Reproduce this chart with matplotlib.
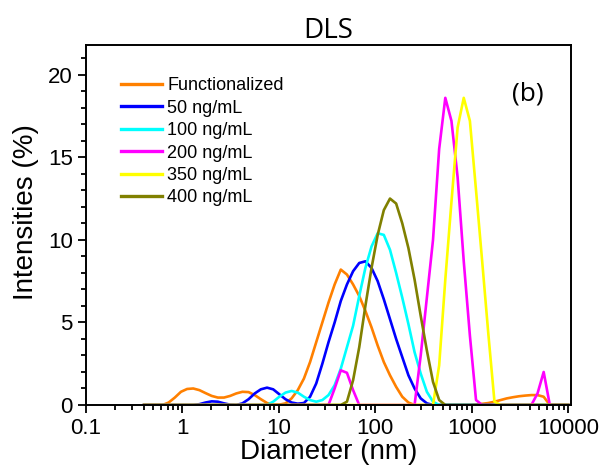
import matplotlib
matplotlib.use("Agg")
import matplotlib.pyplot as plt
from matplotlib.ticker import MultipleLocator, LogLocator, NullFormatter, FixedLocator

# Size bins (nm)
diameter = [0.4, 0.4632, 0.5365, 0.6213, 0.7195, 0.8332, 0.9649, 1.117, 1.294, 1.499,
            1.736, 2.01, 2.328, 2.696, 3.122, 3.615, 4.187, 4.849, 5.615, 6.503,
            7.531, 8.721, 10.1, 11.7, 13.54, 15.69, 18.17, 21.04, 24.36, 28.21,
            32.67, 37.84, 43.82, 50.75, 58.77, 68.06, 78.82, 91.28, 105.7, 122.4,
            141.8, 164.2, 190.1, 220.2, 255.0, 295.3, 342.0, 396.1, 458.7, 531.2,
            615.1, 712.4, 825.0, 955.4, 1106, 1281, 1484, 1718, 1990, 2305,
            2669, 3091, 3580, 4145, 4801, 5560, 6439, 7456, 8635, 10000]

functionalized = [0, 0, 0, 0, 0.15, 0.45, 0.8, 0.97, 1.0, 0.9,
                  0.72, 0.55, 0.45, 0.45, 0.55, 0.7, 0.8, 0.78, 0.6, 0.35,
                  0.12, 0.02, 0.02, 0.1, 0.4, 0.9, 1.6, 2.6, 3.8, 5.0,
                  6.2, 7.3, 8.2, 7.9, 7.3, 6.6, 5.7, 4.7, 3.6, 2.6,
                  1.8, 1.1, 0.5, 0.15, 0, 0, 0, 0, 0, 0,
                  0, 0, 0, 0, 0.03, 0.07, 0.12, 0.2, 0.3, 0.4,
                  0.47, 0.53, 0.57, 0.6, 0.6, 0.5, 0, 0, 0, 0]

ng50 = [0, 0, 0, 0, 0, 0, 0, 0, 0, 0.05,
        0.15, 0.22, 0.2, 0.1, 0.02, 0, 0.1, 0.35, 0.7, 0.95,
        1.05, 0.95, 0.65, 0.35, 0.15, 0.08, 0.12, 0.5, 1.3, 2.5,
        3.8, 5.0, 6.3, 7.3, 8.1, 8.6, 8.7, 8.3, 7.5, 6.4,
        5.2, 4.0, 2.9, 1.8, 1.0, 0.4, 0.1, 0, 0, 0,
        0, 0, 0, 0, 0, 0, 0, 0, 0, 0,
        0, 0, 0, 0, 0, 0, 0, 0, 0, 0]

ng100 = [0, 0, 0, 0, 0, 0, 0, 0, 0, 0,
         0, 0, 0, 0, 0, 0, 0, 0, 0, 0,
         0, 0.2, 0.5, 0.75, 0.85, 0.75, 0.5, 0.3, 0.2, 0.3,
         0.6, 1.2, 2.2, 3.5, 4.8, 6.6, 8.3, 9.6, 10.4, 10.3,
         9.4, 8.0, 6.5, 4.9, 3.2, 1.9, 0.8, 0.2, 0, 0,
         0, 0, 0, 0, 0, 0, 0, 0, 0, 0,
         0, 0, 0, 0, 0, 0, 0, 0, 0, 0]

ng200 = [0, 0, 0, 0, 0, 0, 0, 0, 0, 0,
         0, 0, 0, 0, 0, 0, 0, 0, 0, 0,
         0, 0, 0, 0, 0, 0, 0, 0, 0, 0,
         0, 1.0, 2.1, 1.95, 0.9, 0, 0, 0, 0, 0,
         0, 0, 0, 0, 0, 3.0, 6.5, 10.0, 15.5, 18.6,
         17.2, 13.8, 8.7, 4.2, 0.3, 0, 0, 0, 0, 0,
         0, 0, 0, 0, 0.7, 2.0, 0, 0, 0, 0]

ng350 = [0, 0, 0, 0, 0, 0, 0, 0, 0, 0,
         0, 0, 0, 0, 0, 0, 0, 0, 0, 0,
         0, 0, 0, 0, 0, 0, 0, 0, 0, 0,
         0, 0, 0, 0, 0, 0, 0, 0, 0, 0,
         0, 0, 0, 0, 0, 0, 0, 0, 2.4, 7.6,
         12.3, 16.8, 18.6, 17.2, 13.0, 8.7, 4.3, 0.2, 0, 0,
         0, 0, 0, 0, 0, 0, 0, 0, 0, 0]

ng400 = [0, 0, 0, 0, 0, 0, 0, 0, 0, 0,
         0, 0, 0, 0, 0, 0, 0, 0, 0, 0,
         0, 0, 0, 0, 0, 0, 0, 0, 0, 0,
         0, 0, 0, 0.2, 1.5, 3.5, 6.0, 8.3, 10.3, 11.8,
         12.5, 12.2, 11.0, 9.5, 7.6, 5.4, 3.3, 1.4, 0.3, 0,
         0, 0, 0, 0, 0, 0, 0, 0, 0, 0,
         0, 0, 0, 0, 0, 0, 0, 0, 0, 0]

labels = ["Functionalized", "50 ng/mL", "100 ng/mL", "200 ng/mL", "350 ng/mL", "400 ng/mL"]
colors = ["#FF8000", "#0000FF", "#00FFFF", "#FF00FF", "#FFFF00", "#808000"]
series = [functionalized, ng50, ng100, ng200, ng350, ng400]

x_ticks = [0.1, 1, 10, 100, 1000, 10000]
x_ticklabels = ["0.1", "1", "10", "100", "1000", "10000"]

plt.rcParams['font.family'] = ['Liberation Sans', 'DejaVu Sans']

fig = plt.figure(figsize=(6.05, 4.71), dpi=100)
ax = fig.add_axes([86/605, 1-405/471, 484.7/605, 360/471])

for y, c, lab in zip(series, colors, labels):
    ax.plot(diameter, y, color=c, lw=1.9, label=lab)

ax.set_xscale('log')
ax.set_xlim(0.1, 10600)
ax.set_ylim(0, 21.8)
ax.xaxis.set_major_locator(FixedLocator(x_ticks))
ax.set_xticklabels(x_ticklabels)
ax.xaxis.set_minor_locator(LogLocator(base=10, subs=[2, 3, 4, 5, 6, 7, 8, 9], numticks=20))
ax.xaxis.set_minor_formatter(NullFormatter())
ax.yaxis.set_major_locator(MultipleLocator(5))
ax.yaxis.set_minor_locator(MultipleLocator(1))

ax.tick_params(which='both', direction='out', top=False, right=False, width=1.3, labelsize=16)
ax.tick_params(which='major', length=6)
ax.tick_params(which='minor', length=3.5)
for s in ax.spines.values():
    s.set_linewidth(1.4)

ax.set_xlabel("Diameter (nm)", fontsize=20, labelpad=0)
ax.set_ylabel("Intensities (%)", fontsize=20)
ax.yaxis.set_label_coords(-0.097, 0.535)
ax.set_title("DLS", fontsize=20, family=['Open Sans', 'DejaVu Sans'], pad=5)
ax.text(0.912, 0.865, "(b)", transform=ax.transAxes, fontsize=19,
        family=['Open Sans', 'DejaVu Sans'], ha='center', va='center')

leg = ax.legend(loc='upper left', bbox_to_anchor=(0.0716, 0.91), frameon=False,
                fontsize=13, handlelength=2.27, handletextpad=0.3, labelspacing=0.3,
                borderpad=0, borderaxespad=0)
for h in leg.get_lines():
    h.set_linewidth(2.4)

fig.savefig("out.png", dpi=100)
